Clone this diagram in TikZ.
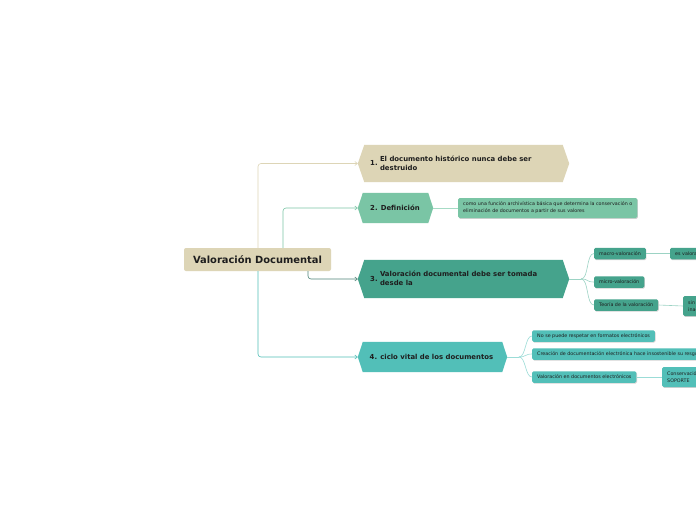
\documentclass[tikz,border=0pt]{standalone}
\usepackage{fontspec}
\setmainfont{DejaVu Sans}
\usetikzlibrary{arrows.meta,shadows}
\definecolor{cbeige}{HTML}{DDD5B6}
\definecolor{cgreen}{HTML}{7AC5A5}
\definecolor{cteal}{HTML}{45A38C}
\definecolor{cturq}{HTML}{52BFB8}
\definecolor{lgreen}{HTML}{A6DBC5}
\definecolor{lteal}{HTML}{9CD3C4}
\definecolor{lturq}{HTML}{9BDCD7}
\definecolor{ldark}{HTML}{4F8578}
\definecolor{ctext}{HTML}{1E1E1E}
\newcommand\hexfill[3]{\fill[#2] (#1.west) -- ([xshift=#3]#1.north west) -- ([xshift=-#3]#1.north east) -- (#1.east) -- ([xshift=-#3]#1.south east) -- ([xshift=#3]#1.south west) -- cycle;}
\tikzset{
  hexbox/.style={rectangle,inner sep=0pt,minimum width=#1},
  hextext/.style={anchor=west,inner sep=0pt,font=\fontsize{6.9}{9}\selectfont\bfseries,text=ctext,align=left},
  leaf/.style={rectangle,rounded corners=1.5pt,fill=#1,anchor=west,inner xsep=5pt,inner ysep=0pt,
     minimum height=11.5pt,font=\fontsize{4.8}{7}\selectfont,text=ctext,align=left,
     drop shadow={shadow xshift=0.6pt,shadow yshift=-0.9pt,opacity=0.35}},
  link/.style={line width=0.6pt,rounded corners=3pt,-{Straight Barb[length=2.5pt,width=4pt]}},
  sub/.style={line width=0.6pt}
}
\begin{document}
\begin{tikzpicture}[x=1pt,y=-1pt]
\useasboundingbox (0,0) rectangle (696,520);
\clip (0,0) rectangle (696,520);
\fill[white] (0,0) rectangle (696,520);

% root
\node[rectangle,rounded corners=2pt,fill=cbeige,minimum width=147pt,minimum height=23pt,inner sep=0pt,
  font=\fontsize{9.9}{11}\selectfont\bfseries,text=ctext] (root) at (257.5,259.5) {Valoración Documental};

% hexagons
\node[hexbox=211pt,minimum height=37pt] (h1) at (463.5,163.5) {};
\hexfill{h1}{cbeige}{6.5pt}
\node[hextext] (t1) at (370,164) {1.\ \begin{tabular}[c]{@{}l@{}}El documento histórico nunca debe ser\\destruido\end{tabular}};

\node[hexbox=75pt,minimum height=30pt] (h2) at (395.5,208) {};
\hexfill{h2}{cgreen}{5pt}
\node[hextext] (t2) at (370,208) {2. Definición};

\node[hexbox=211pt,minimum height=38pt] (h3) at (463.5,279) {};
\hexfill{h3}{cteal}{6.5pt}
\node[hextext] (t3) at (370,279.5) {3.\ \begin{tabular}[c]{@{}l@{}}Valoración documental debe ser tomada\\desde la\end{tabular}};

\node[hexbox=149pt,minimum height=30pt] (h4) at (432.5,357) {};
\hexfill{h4}{cturq}{5pt}
\node[hextext] (t4) at (369.5,357) {4. ciclo vital de los documentos};

% root connectors
\draw[link,cbeige] ([xshift=0.5pt]root.north) |- (h1.west);
\draw[link,cgreen] ([xshift=25.5pt]root.north) |- (h2.west);
\draw[link,ldark] ([xshift=50.5pt]root.south) |- (h3.west);
\draw[link,cturq] ([xshift=0.5pt]root.south) |- (h4.west);

% leaves of 2
\node[leaf=cgreen,minimum height=20pt] (d1) at (458,208) {como una función archivística básica que determina la conservación o\\eliminación de documentos a partir de sus valores};
\draw[sub,lgreen] (h2.east) -- (d1.west);

% leaves of 3
\node[leaf=cteal] (m1) at (594,253.5) {macro-valoración};
\node[leaf=cteal] (m2) at (594,282) {micro-valoración};
\node[leaf=cteal] (m3) at (594,305) {Teoría de la valoración};
\node[leaf=cteal] (m1a) at (670,253.5) {es valoración};
\node[leaf=cteal,minimum height=20pt] (m3a) at (683,306) {sin valor\\inactivos};
\coordinate (j3) at (581,279);
\draw[sub,lteal] (h3.east) -- (j3);
\draw[sub,lteal] (j3) .. controls +(8,0) and +(-8,0) .. (m1.west);
\draw[sub,lteal] (j3) .. controls +(8,0) and +(-8,0) .. (m2.west);
\draw[sub,lteal] (j3) .. controls +(8,0) and +(-8,0) .. (m3.west);
\draw[sub,lteal] (m1.east) -- (m1a.west);
\draw[sub,lteal] (m3.east) -- (m3a.west);

% leaves of 4
\node[leaf=cturq] (n1) at (532,336) {No se puede respetar en formatos electrónicos};
\node[leaf=cturq] (n2) at (532,354) {Creación de documentación electrónica hace insostenible su resguardo};
\node[leaf=cturq] (n3) at (532,377) {Valoración en documentos electrónicos};
\node[leaf=cturq,minimum height=20pt] (n3a) at (662,377) {Conservación\\SOPORTE};
\coordinate (j4) at (519,357);
\draw[sub,lturq] (h4.east) -- (j4);
\draw[sub,lturq] (j4) .. controls +(7,0) and +(-7,0) .. (n1.west);
\draw[sub,lturq] (j4) .. controls +(7,0) and +(-7,0) .. (n2.west);
\draw[sub,lturq] (j4) .. controls +(7,0) and +(-7,0) .. (n3.west);
\draw[sub,lturq] (n3.east) -- (n3a.west);
\end{tikzpicture}
\end{document}
